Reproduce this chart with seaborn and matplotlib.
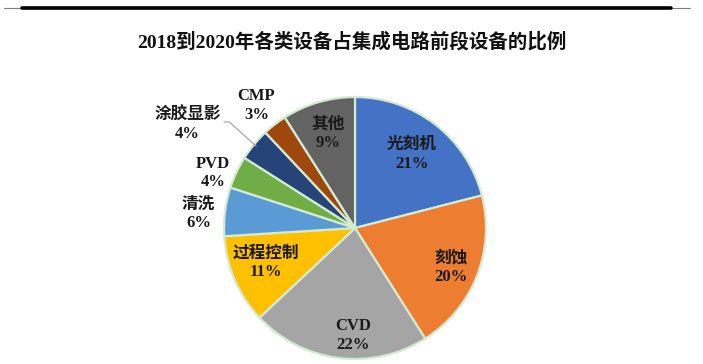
import matplotlib
matplotlib.use("Agg")
import matplotlib.pyplot as plt
import seaborn as sns
import numpy as np
from matplotlib.lines import Line2D

sns.set_theme(style="white")
plt.rcParams['font.family'] = ['Liberation Serif', 'Noto Sans CJK SC']

# ---- data ----
categories = ["光刻机", "刻蚀", "CVD", "过程控制", "清洗", "PVD", "涂胶显影", "CMP", "其他"]
shares = [21, 20, 22, 11, 6, 4, 4, 3, 9]
pct_labels = ["21%", "20%", "22%", "11%", "6%", "4%", "4%", "3%", "9%"]
title = "2018到2020年各类设备占集成电路前段设备的比例"

# ---- style ----
colors = ["#4472C4", "#ED7D31", "#A5A5A5", "#FFC000", "#5B9BD5",
          "#70AD47", "#264478", "#9E480E", "#636363"]
label_r = [0.71, 0.79, 0.82, 0.73, 1.20, 1.16, 1.50, 1.20, 0.75]
label_dang = [0, -1, 6, -2, 2, 4, 8, 1, 0]

W, H = 703, 364
fig = plt.figure(figsize=(W / 100, H / 100), dpi=100)
fig.patch.set_facecolor("white")

cx, cy, R = 355, 228, 131
lim = 1.6
side = 2 * lim * R
ax = fig.add_axes([(cx - side / 2) / W, ((H - cy) - side / 2) / H, side / W, side / H])

wedges, _ = ax.pie(shares, colors=colors, startangle=90, counterclock=False,
                   radius=1.0, wedgeprops=dict(edgecolor="#d3ebd2", linewidth=1.6))
ax.set_xlim(-lim, lim)
ax.set_ylim(-lim, lim)
ax.set_aspect("equal")
ax.axis("off")

for i, w in enumerate(wedges):
    mid = (w.theta1 + w.theta2) / 2 + label_dang[i]
    r = label_r[i]
    x = r * np.cos(np.deg2rad(mid))
    y = r * np.sin(np.deg2rad(mid))
    ax.text(x, y, categories[i] + "\n" + pct_labels[i], ha="center", va="center",
            fontsize=12, fontweight="bold", color="#1a1a1a", linespacing=1.2)

# leader line for 涂胶显影
w = wedges[6]
mid = np.deg2rad((w.theta1 + w.theta2) / 2)
p0 = (0.98 * np.cos(mid), 0.98 * np.sin(mid))
p1 = (-0.96, 0.81)
p2 = (-1.0, 0.81)
ax.plot([p0[0], p1[0], p2[0]], [p0[1], p1[1], p2[1]], color="#a6a6a6", lw=0.9)

fig.text(352 / W, 1 - 42 / H, title, ha="center", va="center",
         fontsize=14, fontweight="bold", color="#111111")

# top rules
fig.add_artist(Line2D([4 / W, 690 / W], [1 - 8 / H, 1 - 8 / H], color="#7f7f7f", lw=0.8))
fig.add_artist(Line2D([22 / W, 671 / W], [1 - 8 / H, 1 - 8 / H], color="#000000", lw=2.6))

fig.savefig("out.png", dpi=100, facecolor="white")
